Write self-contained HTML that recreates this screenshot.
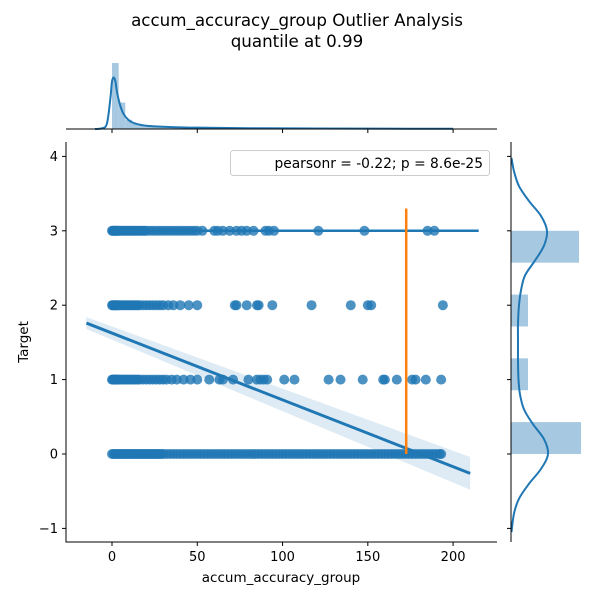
<!DOCTYPE html>
<html><head><meta charset="utf-8"><style>
body{margin:0;background:#fff;}
svg text{font-family:"DejaVu Sans","Liberation Sans",sans-serif;fill:#000;}
</style></head><body>
<svg id="chart" width="600" height="600" viewBox="0 0 600 600" xmlns="http://www.w3.org/2000/svg">
<rect width="600" height="600" fill="#fff"/>
<text x="297" y="26" font-size="16.7" text-anchor="middle">accum_accuracy_group Outlier Analysis</text>
<text x="297" y="47" font-size="16.7" text-anchor="middle">quantile at 0.99</text>
<g id="g"></g>
</svg>
<script>
const xTicks=[0,50,100,150,200];
const yTicks=[-1,0,1,2,3,4];
const row3=[0,0.5,1,1.5,2,2.5,3,3.5,4,5,6,7,8,9,10,11,12,13,14,15,16,17,18,19,20,22,24,26,28,30,32,34,36,38,40,42,44,46,48,50,53,60,62,65,69,73,76,79,83,90,92,95,121,148,185,189];
const row2=[0,0.5,1,1.5,2,2.5,3,3.5,4,5,6,7,8,9,10,11,12,13,14,15,16,18,20,22,24,26,28,30,33,36,40,45,50,72,73,79,85,86,94,117,140,150,152,194];
const row1=[0,0.5,1,1.5,2,2.5,3,3.5,4,5,6,7,8,9,10,11,12,13,14,15,16,18,20,22,24,26,28,30,32,35,38,42,46,50,57,63,65,71,80,85,87,89,91,101,107,127,134,147,159,160,167,176,178,184,193];
const row0=[0,1,2,3,4,5,6,7,8,9,10,11,12,13,14,15,16,17,18,19,20,21,22,23,24,25,26,27,28,29,30,32,34,36,38,40,42,44,46,48,50,52,54,56,58,60,62,64,66,68,70,72,74,76,78,80,82,84,86,88,90,92,94,96,98,100,102,104,106,108,110,112,114,116,118,120,122,124,126,128,130,132,134,136,138,140,142,144,146,148,150,152,154,156,158,160,162,164,166,168,170,172,174,176,178,180,182,184,186,188,190,192,193];
const regX=[-15,210];
const regY=[1.76,-0.26];
const ciLow=[1.68,-0.48];
const ciHigh=[1.84,-0.04];
const hLineX=[0,215];
const hLineY=3;
const outlierX=172.5;
const outlierY=[0,3.3];
const topBinEdges=[0,3.9,7.8,11.7,15.6,19.5,23.4,27.3,31.2,35.1,39,46.8,58.5,78,117,156,195];
const topBinCounts=[100,40,14,8,5,4,3,2.5,2,1.5,1,0.7,0.5,0.3,0.2,0.1];
const topKdeX=[-10,-6,-3,-1,0,1,2,3,5,7,10,14,20,30,50,80,120,160,200];
const topKdeY=[0,1,8,45,72,78,72,55,34,22,13,8,5,3.5,2,1.2,0.8,0.5,0.3];
const rightBinEdges=[0,0.4286,0.8571,1.2857,1.7143,2.1429,2.5714,3];
const rightBinCounts=[70,0,17,0,17,0,68];
const rightKdeY=[-1.05,-0.8,-0.6,-0.4,-0.2,0,0.2,0.4,0.6,0.8,1.0,1.25,1.5,1.75,2.0,2.2,2.4,2.6,2.8,3.0,3.2,3.4,3.6,3.8,3.98];
const rightKdeD=[0.5,3,8,18,30,37,33,22,13,9,7.5,7,7,7,8,10,14,24,33,36,30,18,8,3,0.5];

const X=v=>112+v*1.7055, Y=v=>454-v*74.4;
const g=document.getElementById('g'), NS='http://www.w3.org/2000/svg';
function mk(t,a,p){const e=document.createElementNS(NS,t);for(const k in a)e.setAttribute(k,a[k]);(p||g).appendChild(e);return e;}
function smooth(pts){let s='M'+pts[0][0]+','+pts[0][1];for(let i=0;i<pts.length-1;i++){const p0=pts[Math.max(0,i-1)],p1=pts[i],p2=pts[i+1],p3=pts[Math.min(pts.length-1,i+2)];const c1=[p1[0]+(p2[0]-p0[0])/6,p1[1]+(p2[1]-p0[1])/6],c2=[p2[0]-(p3[0]-p1[0])/6,p2[1]-(p3[1]-p1[1])/6];s+=`C${c1[0]},${c1[1]} ${c2[0]},${c2[1]} ${p2[0]},${p2[1]}`;}return s;}

const TB=129;
topBinCounts.forEach((c,i)=>{
 const r=mk('rect',{x:X(topBinEdges[i]),y:TB-c*0.66,width:X(topBinEdges[i+1])-X(topBinEdges[i]),height:c*0.66,fill:'#a6c8e0'});
 
 
});
const tk=mk('path',{d:smooth(topKdeX.map((v,i)=>[X(v),TB-topKdeY[i]*0.66])),fill:'none',stroke:'#1f77b4','stroke-width':2});


const ts=mk('line',{x1:66,x2:497,y1:TB,y2:TB,stroke:'#000','stroke-width':1});


xTicks.forEach(v=>{mk('line',{x1:X(v),x2:X(v),y1:TB,y2:TB+4,stroke:'#000'});});

const RL=511;
rightBinCounts.forEach((c,i)=>{
 if(!c)return;
 const r=mk('rect',{x:RL,y:Y(rightBinEdges[i+1]),width:c,height:Y(rightBinEdges[i])-Y(rightBinEdges[i+1]),fill:'#a6c8e0'});
 
 
});
const rk=mk('path',{d:smooth(rightKdeY.map((v,i)=>[RL+rightKdeD[i],Y(v)])),fill:'none',stroke:'#1f77b4','stroke-width':2});


const rs=mk('line',{x1:RL,x2:RL,y1:142,y2:542,stroke:'#000'});


yTicks.forEach(v=>{mk('line',{x1:RL-4,x2:RL,y1:Y(v),y2:Y(v),stroke:'#000'});});

const band=mk('path',{d:`M${X(regX[0])},${Y(ciHigh[0])}L${X(regX[1])},${Y(ciHigh[1])}L${X(regX[1])},${Y(ciLow[1])}L${X(regX[0])},${Y(ciLow[0])}Z`,fill:'#1f77b4','fill-opacity':0.15});


[[row0,0],[row1,1],[row2,2],[row3,3]].forEach(([arr,yv])=>{
 arr.forEach(v=>{
  const c=mk('circle',{cx:X(v),cy:Y(yv),r:5,fill:'#1f77b4','fill-opacity':0.8});
  
  
 });
});
const hl=mk('line',{x1:X(hLineX[0]),x2:X(hLineX[1]),y1:Y(hLineY),y2:Y(hLineY),stroke:'#1f77b4','stroke-width':2.5});


const rl=mk('line',{x1:X(regX[0]),y1:Y(regY[0]),x2:X(regX[1]),y2:Y(regY[1]),stroke:'#1f77b4','stroke-width':3});


const ol=mk('line',{x1:X(outlierX),x2:X(outlierX),y1:Y(outlierY[0]),y2:Y(outlierY[1]),stroke:'#ff7f0e','stroke-width':2.5});



const ax=mk('path',{d:'M66,142V542H497',fill:'none',stroke:'#000'});


xTicks.forEach(v=>{
 mk('line',{x1:X(v),x2:X(v),y1:542,y2:546,stroke:'#000'});
 const t=mk('text',{x:X(v),y:561,'font-size':13,'text-anchor':'middle'});t.textContent=v;
 
 
});
yTicks.forEach(v=>{
 mk('line',{x1:62,x2:66,y1:Y(v),y2:Y(v),stroke:'#000'});
 const t=mk('text',{x:58,y:Y(v)+4.5,'font-size':13,'text-anchor':'end'});t.textContent=v<0?'\u2212'+(-v):v;
 
 
});
const xl=mk('text',{x:281,y:582,'font-size':13.5,'text-anchor':'middle'});xl.textContent='accum_accuracy_group';


const yl=mk('text',{x:28,y:342,'font-size':13.5,'text-anchor':'middle',transform:'rotate(-90 28 342)'});yl.textContent='Target';


const lg=mk('rect',{x:230.5,y:150.5,width:259,height:25,rx:3,fill:'#fff','fill-opacity':0.8,stroke:'#ccc'});


const lt=mk('text',{x:483,y:168,'font-size':13.8,'text-anchor':'end'});lt.textContent='pearsonr = -0.22; p = 8.6e-25';


</script>
</body></html>
